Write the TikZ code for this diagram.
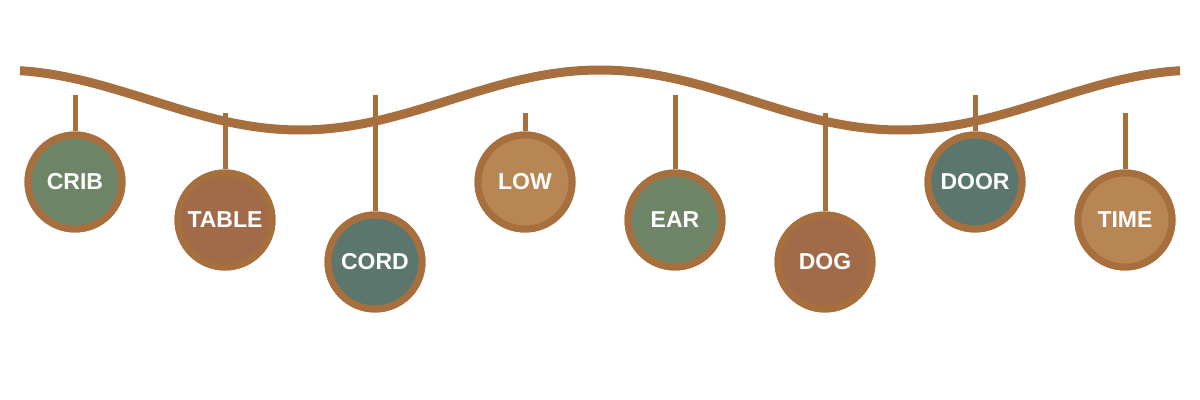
\documentclass[tikz,border=0pt]{standalone}
\usepackage{fontspec}
\setmainfont{Liberation Sans}
\definecolor{rope}{HTML}{A86F3E}
\definecolor{sage}{HTML}{6E8466}
\definecolor{rust}{HTML}{A16B4A}
\definecolor{teal}{HTML}{5A766D}
\definecolor{tan}{HTML}{B88655}
\tikzset{
ball/.style={circle, draw=rope, line width=3.5pt, minimum size=47pt, inner sep=0pt,
  text=white, font=\fontsize{11.5}{13}\selectfont\bfseries}, % the hanging balls
stem/.style={draw=rope, line width=2.5pt},
}
\begin{document}
\begin{tikzpicture}[x=0.5pt,y=-0.5pt]
  \useasboundingbox (0,0) rectangle (1200,400);
  \foreach \x/\y/\t/\c/\w [count=\i] in {75/182/CRIB/sage/95, 225/220/TABLE/rust/113,
      375/262/CORD/teal/95, 525/182/LOW/tan/113, 675/220/EAR/sage/95,
      825/262/DOG/rust/113, 975/182/DOOR/teal/95, 1125/220/TIME/tan/113}{
    \node[ball, fill=\c] (b\i) at (\x,\y) {\t};
    \coordinate (t\i) at (\x,\w);
  }
  % stems under the rope
  \foreach \i in {1,...,8}
    \draw[stem] (t\i) -- (b\i.north);
  \draw[rope, line width=4.5pt] plot[domain=20:1180, samples=120, smooth]
    (\x, {100-30*cos(0.6*\x)});
  % balls on top again
  \foreach \x/\y/\t/\c [count=\i] in {75/182/CRIB/sage, 225/220/TABLE/rust,
      375/262/CORD/teal, 525/182/LOW/tan, 675/220/EAR/sage,
      825/262/DOG/rust, 975/182/DOOR/teal, 1125/220/TIME/tan}
    \node[ball, fill=\c] at (b\i) {\t};
\end{tikzpicture}
\end{document}
